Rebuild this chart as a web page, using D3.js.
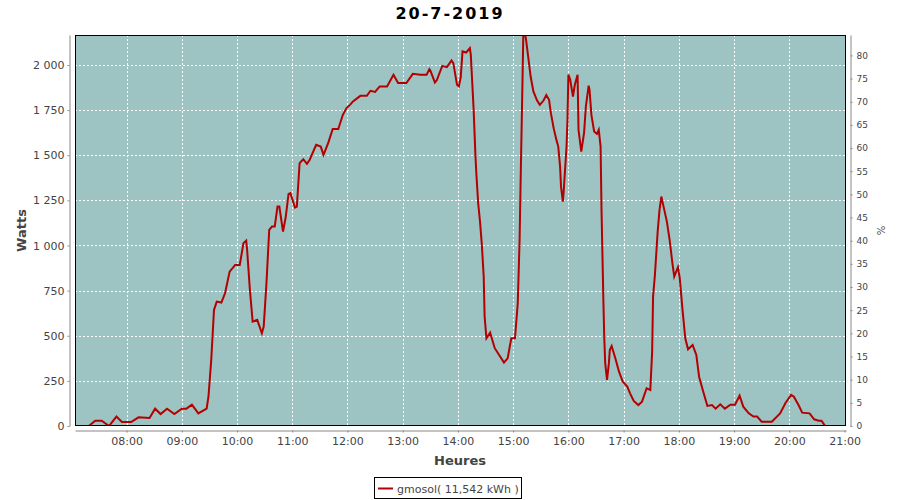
<!DOCTYPE html>
<html>
<head>
<meta charset="utf-8">
<script src="https://cdn.jsdelivr.net/npm/d3@7"></script>
<style>
  html, body { margin: 0; padding: 0; background: #ffffff; }
  svg { display: block; }
</style>
</head>
<body>
<svg id="chart" width="900" height="500"></svg>
<script>
// ---- data ----
const chartTitle = "20-7-2019";
const seriesName = "gmosol( 11,542 kWh )";
const times = ["07:19","07:26","07:33","07:41","07:49","07:55","08:05","08:13","08:25","08:31","08:37","08:44","08:52","09:00","09:05","09:11","09:18","09:27","09:29","09:32","09:35","09:38","09:43","09:47","09:52","09:58","10:03","10:07","10:10","10:11","10:14","10:17","10:22","10:27","10:29","10:32","10:35","10:38","10:41","10:44","10:46","10:50","10:53","10:56","10:58","11:03","11:05","11:08","11:12","11:16","11:19","11:26","11:31","11:34","11:39","11:44","11:50","11:55","11:59","12:03","12:06","12:14","12:21","12:25","12:30","12:35","12:43","12:50","12:55","13:04","13:11","13:19","13:26","13:29","13:30","13:35","13:37","13:43","13:48","13:53","13:55","13:59","14:01","14:03","14:05","14:09","14:13","14:14","14:17","14:19","14:20","14:22","14:24","14:26","14:28","14:29","14:31","14:35","14:40","14:46","14:50","14:54","14:58","15:02","15:05","15:07","15:08","15:10","15:11","15:12","15:14","15:17","15:19","15:22","15:26","15:29","15:33","15:36","15:39","15:41","15:44","15:47","15:49","15:51","15:52","15:54","15:55","15:58","15:59","16:00","16:02","16:05","16:07","16:10","16:11","16:14","16:17","16:19","16:22","16:23","16:25","16:28","16:31","16:33","16:35","16:36","16:38","16:39","16:40","16:42","16:44","16:45","16:47","16:51","16:55","16:59","17:04","17:07","17:11","17:16","17:20","17:25","17:29","17:31","17:32","17:34","17:37","17:39","17:41","17:43","17:47","17:50","17:53","17:55","17:59","18:01","18:04","18:07","18:10","18:15","18:19","18:22","18:27","18:31","18:36","18:40","18:45","18:50","18:56","19:01","19:06","19:10","19:16","19:21","19:25","19:30","19:41","19:50","19:56","20:02","20:05","20:10","20:14","20:22","20:27","20:32","20:35","20:39","20:46"];
const watts = [0,29,29,0,52,22,22,48,44,96,66,96,66,96,96,118,70,96,162,366,643,689,684,735,855,892,892,1013,1027,975,754,578,588,514,551,791,1086,1105,1105,1216,1216,1077,1160,1286,1290,1210,1215,1456,1478,1452,1475,1558,1548,1502,1567,1645,1645,1724,1761,1780,1798,1829,1829,1857,1851,1881,1881,1946,1900,1900,1951,1946,1946,1977,1970,1903,1915,1995,1988,2025,2010,1890,1881,1930,2075,2069,2093,2056,1761,1502,1401,1234,1132,1003,828,606,486,517,431,384,351,375,486,486,680,1031,1326,1872,2158,2200,2140,2019,1936,1853,1803,1779,1803,1833,1807,1733,1650,1585,1548,1437,1326,1243,1308,1548,1696,1946,1918,1825,1890,1946,1641,1520,1622,1770,1885,1862,1724,1631,1618,1641,1548,1197,698,486,348,255,348,421,443,375,301,246,218,181,139,116,135,209,200,412,717,837,1077,1197,1271,1225,1132,1031,902,828,880,819,643,486,425,449,394,273,181,111,116,96,120,96,118,118,168,107,70,52,52,24,24,70,129,172,162,116,74,70,37,29,29,0,0];
const hourTicks = ["08:00","09:00","10:00","11:00","12:00","13:00","14:00","15:00","16:00","17:00","18:00","19:00","20:00","21:00"];
const wattTicks = [0,250,500,750,1000,1250,1500,1750,2000];
const pctTicks = [0,5,10,15,20,25,30,35,40,45,50,55,60,65,70,75,80];
const timeDomain = ["07:04","21:01"];
const wattMax = 2166;
const pctMax = 84.4;

// ---- layout ----
const svg = d3.select("#chart");
const L = 75, R = 846, T = 35, B = 426;
const parse = d3.timeParse("%H:%M");
const fmtTime = d3.timeFormat("%H:%M");
const fmtW = v => d3.format(",")(v).replace(/,/g, " ");

const x = d3.scaleTime().domain(timeDomain.map(parse)).range([L, R]);
const x0 = x.domain()[0];
// extend domain by ~36 s to land right border precisely
x.domain([x0, new Date(x.domain()[1].getTime() + 36000)]);
const yW = d3.scaleLinear().domain([0, wattMax]).range([B, T]);
const yP = d3.scaleLinear().domain([0, pctMax]).range([B, T]);

const data = times.map((t, i) => ({ t: parse(t), v: watts[i] }));

// plot background
svg.append("rect").attr("x", L).attr("y", T).attr("width", R - L).attr("height", B - T)
  .attr("fill", "#9ec3c3");

// grid
const grid = svg.append("g").attr("stroke", "#ffffff").attr("stroke-width", 1)
  .attr("stroke-dasharray", "2,2").attr("shape-rendering", "crispEdges");
grid.selectAll("line.h").data(wattTicks.filter(d => d > 0)).join("line")
  .attr("x1", L).attr("x2", R)
  .attr("y1", d => Math.round(yW(d)) + 0.5).attr("y2", d => Math.round(yW(d)) + 0.5);
grid.selectAll("line.v").data(hourTicks.map(parse)).join("line")
  .attr("y1", T).attr("y2", B)
  .attr("x1", d => Math.round(x(d)) + 0.5).attr("x2", d => Math.round(x(d)) + 0.5);

// clip
svg.append("clipPath").attr("id", "clip").append("rect")
  .attr("x", L).attr("y", T).attr("width", R - L).attr("height", B - T);

// line
svg.append("path").datum(data)
  .attr("clip-path", "url(#clip)")
  .attr("fill", "none").attr("stroke", "#b30000").attr("stroke-width", 2)
  .attr("d", d3.line().x(d => x(d.t)).y(d => yW(d.v)));

// plot border
svg.append("rect").attr("x", L + 0.5).attr("y", T + 0.5).attr("width", R - L - 1).attr("height", B - T - 1)
  .attr("fill", "none").attr("stroke", "#000000").attr("stroke-width", 1);

function styleAxis(g, size) {
  g.select(".domain").attr("stroke", "#888888");
  g.selectAll(".tick line").attr("stroke", "#888888");
  g.selectAll(".tick text").attr("fill", "#444444")
    .attr("font-family", "DejaVu Sans, sans-serif").attr("font-size", size);
}

// left axis
const gL = svg.append("g").attr("transform", "translate(69.5,0)")
  .call(d3.axisLeft(yW).tickValues(wattTicks).tickFormat(fmtW)
    .tickSize(2).tickSizeOuter(0).tickPadding(3));
styleAxis(gL, 11);

// right axis
const gR = svg.append("g").attr("transform", "translate(850.5,0)")
  .call(d3.axisRight(yP).tickValues(pctTicks).tickFormat(d3.format("d"))
    .tickSize(2).tickSizeOuter(0).tickPadding(4));
styleAxis(gR, 9);

// bottom axis
const gB = svg.append("g").attr("transform", "translate(0,430.5)")
  .call(d3.axisBottom(x).tickValues(hourTicks.map(parse)).tickFormat(fmtTime)
    .tickSize(2).tickSizeOuter(0).tickPadding(5));
styleAxis(gB, 11);

// title
svg.append("text").attr("x", 450).attr("y", 19).attr("text-anchor", "middle")
  .attr("font-family", "DejaVu Sans, sans-serif").attr("font-weight", "bold")
  .attr("font-size", 16).attr("letter-spacing", 2).attr("fill", "#000000")
  .text(chartTitle);

// axis labels
svg.append("text").attr("transform", `translate(26,${(T + B) / 2}) rotate(-90)`)
  .attr("text-anchor", "middle").attr("font-family", "DejaVu Sans, sans-serif")
  .attr("font-weight", "bold").attr("font-size", 13).attr("fill", "#444444")
  .text("Watts");
svg.append("text").attr("x", 460).attr("y", 465).attr("text-anchor", "middle")
  .attr("font-family", "DejaVu Sans, sans-serif")
  .attr("font-weight", "bold").attr("font-size", 13).attr("fill", "#444444")
  .text("Heures");
svg.append("text").attr("transform", `translate(877,${(T + B) / 2}) rotate(90)`)
  .attr("text-anchor", "middle").attr("font-family", "DejaVu Sans, sans-serif")
  .attr("font-size", 10).attr("fill", "#444444")
  .text("%");

// legend
const lg = svg.append("g");
lg.append("rect").attr("x", 374.5).attr("y", 477.5).attr("width", 147).attr("height", 21)
  .attr("fill", "#ffffff").attr("stroke", "#000000").attr("stroke-width", 1);
lg.append("line").attr("x1", 378).attr("x2", 393).attr("y1", 488.5).attr("y2", 488.5)
  .attr("stroke", "#b30000").attr("stroke-width", 2);
lg.append("text").attr("x", 397).attr("y", 492.5)
  .attr("font-family", "DejaVu Sans, sans-serif").attr("font-size", 11).attr("fill", "#444444")
  .text(seriesName);
</script>
</body>
</html>
